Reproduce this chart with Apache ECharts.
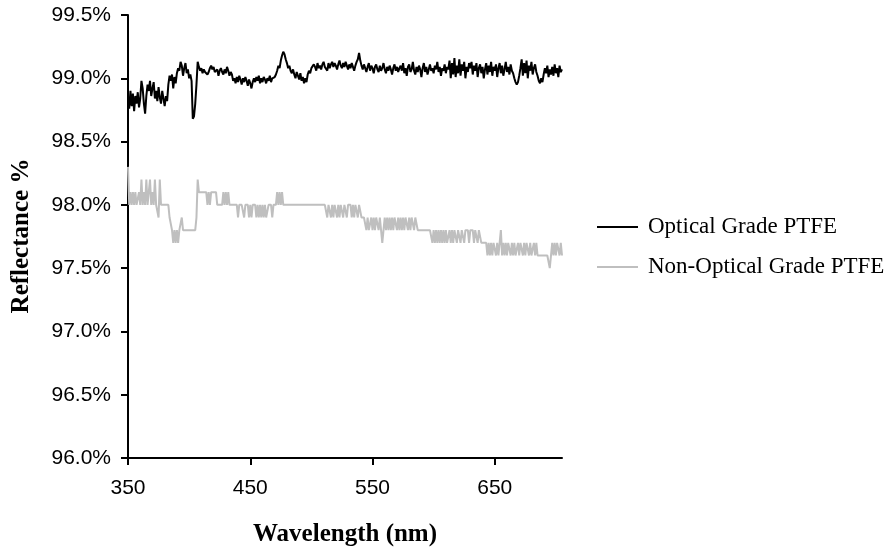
<!DOCTYPE html>
<html>
<head>
<meta charset="utf-8">
<script src="https://cdn.jsdelivr.net/npm/echarts@6/dist/echarts.min.js"></script>
<style>
html,body{margin:0;padding:0;background:#fff;}
#chart{width:896px;height:555px;}
</style>
</head>
<body>
<div id="chart"></div>
<script>
// Wavelength start/end (nm), 1 nm steps
const startNm = 350;
const endNm = 705;
const xTicks = [350, 450, 550, 650];
const yTicks = [96.0, 96.5, 97.0, 97.5, 98.0, 98.5, 99.0, 99.5];
const seriesNames = ['Optical Grade PTFE', 'Non-Optical Grade PTFE'];

// Optical Grade PTFE reflectance (%), 350..705 nm
const optical = [
  98.85,98.76,98.90,98.78,98.88,98.74,98.86,98.80,98.89,98.77,98.84,
  98.98,98.92,98.80,98.72,98.86,
  98.95,98.90,98.98,98.86,98.92,98.97,98.84,98.90,98.82,
  98.93,98.85,98.80,98.90,98.84,98.78,98.86,98.82,
  98.95,99.02,98.98,99.03,98.92,99.01,98.96,99.04,
  99.08,99.06,99.13,99.10,99.02,99.08,99.12,99.04,
  99.07,99.00,99.03,98.98,
  98.68,98.70,98.80,98.95,
  99.13,
  99.09,99.06,99.08,99.04,99.07,99.05,99.06,99.03,99.05,99.08,99.10,99.07,99.09,99.05,99.04,99.07,99.02,99.06,99.08,99.05,99.03,99.07,99.04,99.09,99.06,99.02,99.05,99.03,
  98.98,99.00,98.96,99.01,98.97,99.02,98.99,98.95,99.00,98.97,99.01,98.98,98.94,98.99,98.96,98.92,98.97,
  99.00,98.97,99.01,98.98,99.02,98.96,99.00,98.97,99.01,98.99,98.96,99.00,98.98,99.02,98.97,99.00,98.99,99.01,99.03,
  99.06,99.10,99.08,99.14,99.18,99.21,99.19,
  99.15,99.12,99.08,99.10,99.06,99.04,99.07,99.03,99.00,99.05,99.02,98.99,
  99.04,98.98,99.01,98.96,99.00,98.97,99.03,99.06,99.04,99.08,
  99.07,99.11,99.09,99.06,99.12,99.08,99.10,99.07,99.11,99.13,99.09,99.10,99.06,99.12,99.08,99.11,99.13,99.09,99.12,99.10,99.07,99.11,99.14,99.10,99.08,99.12,99.09,99.13,99.10,99.07,99.11,
  99.08,99.12,99.09,99.06,99.10,99.13,99.15,99.20,
  99.14,99.10,99.07,99.11,99.08,99.05,99.09,99.12,99.06,99.10,99.08,99.04,99.09,99.11,99.07,99.05,99.10,99.06,99.08,99.12,99.07,99.04,99.09,99.06,99.10,99.07,99.03,99.08,99.11,99.06,99.09,99.05,99.08,
  99.10,99.06,99.12,99.04,99.08,99.02,99.09,99.11,99.05,99.07,99.13,99.06,99.03,99.09,99.05,99.10,99.07,99.01,99.08,99.12,99.05,99.09,99.03,99.07,99.11,99.06,99.08,99.04,99.10,99.07,99.13,99.05,99.09,99.02,99.08,99.06,99.11,99.04,99.09,99.07,
  99.14,99.00,99.12,99.03,99.16,99.01,99.10,99.04,99.15,99.02,99.11,99.06,99.13,99.00,99.09,99.05,99.12,
  99.08,99.13,99.03,99.10,99.06,99.12,99.01,99.08,99.11,99.04,99.09,99.00,99.07,99.12,99.03,99.10,99.05,99.13,99.02,99.09,99.06,99.11,99.01,99.08,99.12,99.04,99.10,99.02,99.07,99.13,99.05,99.09,99.03,99.11,99.06,
  99.04,99.00,98.97,98.95,98.97,99.02,99.08,
  99.15,99.02,99.12,99.04,99.14,99.00,99.10,99.06,99.13,99.03,99.08,99.11,99.05,99.02,
  98.98,98.96,99.00,98.97,99.03,99.08,99.04,99.10,99.01,99.07,99.03,
  99.09,99.02,99.11,99.04,99.08,99.01,99.10,99.05,99.07
];

// Non-Optical Grade PTFE reflectance (%), 350..705 nm
const nonOptical = [
  98.3,
  98.0,98.1,98.0,98.1,98.0,98.1,98.0,98.0,98.1,98.0,
  98.2,
  98.0,98.1,98.0,98.2,98.0,98.1,98.2,98.0,
  98.1,98.0,98.2,98.0,98.0,97.9,
  98.2,98.0,
  98.0,98.0,98.0,98.0,98.0,98.0,
  97.9,97.9,
  97.8,97.7,97.8,97.7,97.8,97.7,97.8,
  97.8,97.9,
  97.8,97.8,97.8,97.8,97.8,97.8,97.8,97.8,97.8,97.8,97.8,
  97.9,
  98.2,
  98.1,98.1,98.1,98.1,98.1,98.1,98.1,
  98.0,98.1,98.0,
  98.1,98.1,98.1,98.1,98.1,
  98.0,98.0,98.0,98.0,98.0,
  98.1,98.0,98.1,98.0,98.1,98.0,
  98.0,98.0,98.0,98.0,98.0,
  98.0,97.9,98.0,98.0,98.0,98.0,97.9,98.0,98.0,98.0,
  97.9,98.0,97.9,98.0,98.0,98.0,97.9,98.0,97.9,98.0,
  97.9,98.0,97.9,98.0,97.9,97.9,98.0,98.0,98.0,97.9,
  98.0,98.0,98.0,
  98.1,98.0,98.1,98.0,98.1,98.0,
  98.0,98.0,98.0,98.0,98.0,98.0,98.0,98.0,98.0,98.0,98.0,98.0,98.0,98.0,98.0,98.0,98.0,
  98.0,98.0,98.0,98.0,98.0,98.0,98.0,98.0,98.0,98.0,98.0,98.0,98.0,98.0,98.0,98.0,98.0,
  98.0,97.9,98.0,98.0,97.9,98.0,97.9,98.0,98.0,97.9,
  98.0,97.9,98.0,98.0,97.9,98.0,98.0,97.9,98.0,98.0,
  98.0,97.9,98.0,97.9,98.0,98.0,97.9,98.0,98.0,
  97.9,97.9,97.9,97.9,
  97.8,97.9,97.8,97.8,97.9,97.8,97.9,97.8,97.9,97.9,
  97.8,97.9,97.8,97.7,97.8,97.9,97.8,97.9,97.8,97.9,
  97.8,97.9,97.8,97.9,97.9,97.8,97.9,97.8,97.9,97.8,
  97.9,97.8,97.9,97.9,97.8,97.9,97.8,97.9,97.9,97.8,
  97.9,97.9,97.8,97.8,
  97.8,97.8,97.8,97.8,97.8,97.8,97.8,97.8,97.8,97.8,
  97.7,97.8,97.7,97.8,97.7,97.8,97.7,97.8,97.7,97.8,
  97.7,97.8,97.7,97.7,97.8,97.7,97.8,97.7,97.8,97.8,
  97.7,97.8,97.8,97.7,97.8,97.8,97.7,97.8,97.8,97.8,
  97.7,97.8,97.8,97.8,97.7,97.8,97.8,97.7,97.8,97.8,
  97.7,97.7,
  97.7,97.7,97.7,
  97.6,97.7,97.6,97.7,97.6,97.7,97.7,97.6,97.7,97.6,
  97.7,97.8,97.6,97.7,97.6,97.7,97.6,97.7,97.7,
  97.6,97.7,97.6,97.7,97.6,97.6,97.7,97.6,97.7,97.7,
  97.6,97.7,97.6,97.7,97.7,97.6,97.7,97.6,97.6,97.7,
  97.6,97.7,97.6,
  97.6,97.6,97.6,97.6,97.6,97.6,97.6,97.6,97.6,
  97.5,
  97.6,
  97.7,97.6,97.7,97.6,97.7,97.7,97.6,97.7,97.6
];

function pairs(vals) {
  const out = [];
  for (let i = 0; i < vals.length; i++) out.push([startNm + i, vals[i]]);
  return out;
}

const chart = echarts.init(document.getElementById('chart'), null, {renderer: 'canvas'});
const sansFont = '"Liberation Sans", Arial, sans-serif';
const serifFont = '"Liberation Serif", "Times New Roman", serif';

chart.setOption({
  animation: false,
  backgroundColor: '#ffffff',
  grid: {left: 128, top: 15, right: 334, bottom: 97, containLabel: false},
  xAxis: {
    type: 'value',
    min: startNm,
    max: endNm,
    interval: 100,
    axisLine: {show: true, lineStyle: {color: '#000', width: 2}},
    axisTick: {show: true, length: 7, inside: false, lineStyle: {color: '#000', width: 2}, customValues: xTicks},
    axisLabel: {
      customValues: xTicks,
      color: '#000', fontFamily: sansFont, fontSize: 21, margin: 20
    },
    splitLine: {show: false}
  },
  yAxis: {
    type: 'value',
    min: yTicks[0],
    max: yTicks[yTicks.length - 1],
    interval: 0.5,
    axisLine: {show: true, lineStyle: {color: '#000', width: 2}},
    axisTick: {show: true, length: 7, inside: false, lineStyle: {color: '#000', width: 2}},
    axisLabel: {
      color: '#000', fontFamily: sansFont, fontSize: 21, margin: 17,
      formatter: v => v.toFixed(1) + '%'
    },
    splitLine: {show: false}
  },
  legend: {
    orient: 'vertical',
    left: 592,
    top: 210,
    itemWidth: 41,
    itemHeight: 2,
    itemGap: 16,
    data: [
      {name: seriesNames[0], icon: 'rect'},
      {name: seriesNames[1], icon: 'rect'}
    ],
    textStyle: {color: '#000', fontFamily: serifFont, fontSize: 23, lineHeight: 24, padding: [0, 0, 0, 5]}
  },
  graphic: [
    {type: 'text', x: 345, y: 535, style: {text: 'Wavelength (nm)', font: 'bold 25px ' + serifFont, fill: '#000', textAlign: 'center', textVerticalAlign: 'middle'}},
    {type: 'text', x: 22, y: 236, rotation: Math.PI / 2, style: {text: 'Reflectance %', font: 'bold 25px ' + serifFont, fill: '#000', textAlign: 'center', textVerticalAlign: 'middle'}}
  ],
  series: [
    {
      name: seriesNames[0], type: 'line', data: pairs(optical), symbol: 'none',
      lineStyle: {color: '#000', width: 2}, itemStyle: {color: '#000'}, z: 3
    },
    {
      name: seriesNames[1], type: 'line', data: pairs(nonOptical), symbol: 'none',
      lineStyle: {color: '#bfbfbf', width: 2}, itemStyle: {color: '#bfbfbf'}, z: 2
    }
  ]
});
</script>
</body>
</html>
